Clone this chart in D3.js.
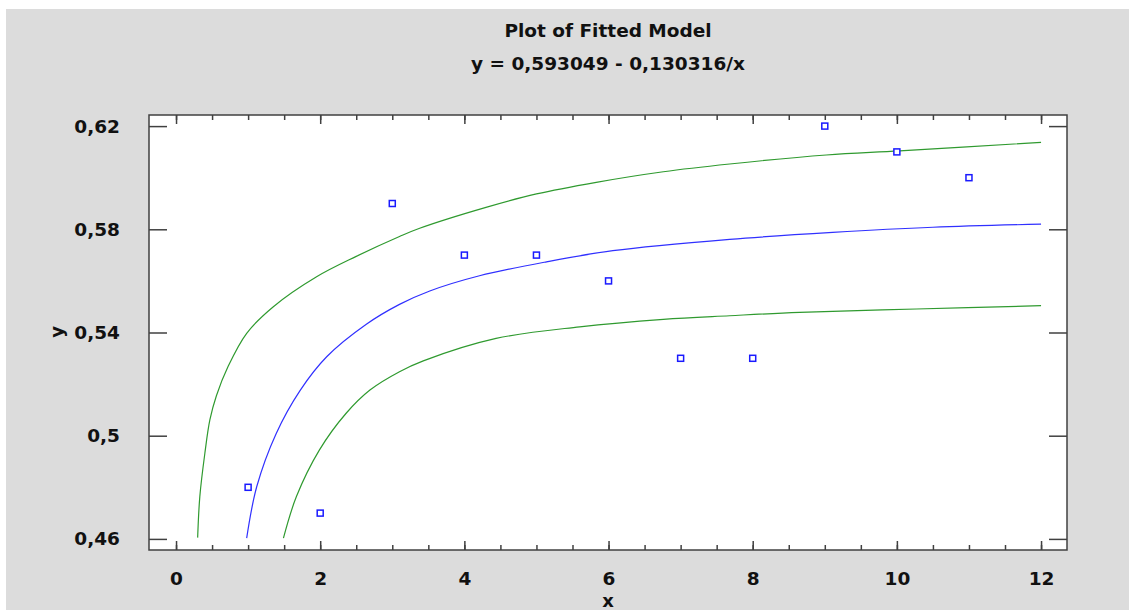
<!DOCTYPE html>
<html>
<head>
<meta charset="utf-8">
<script src="https://cdn.jsdelivr.net/npm/d3@7"></script>
<style>
  body { margin: 0; background: #fff; }
  text { font-family: "DejaVu Sans", sans-serif; font-weight: bold; fill: #111; }
</style>
</head>
<body>
<script>
// chart size & plot box
var width = 1129,
    height = 610;
var margin = {left: 149, top: 115, right: 1067, bottom: 550};

// observed points
var pointX = [1, 2, 3, 4, 5, 6, 7, 8, 9, 10, 11];
var pointY = [0.48, 0.47, 0.59, 0.57, 0.57, 0.56, 0.53, 0.53, 0.62, 0.61, 0.60];

// fitted line
var fitX = [0.98, 1.12, 1.39, 1.72, 2.09, 2.64, 3.10, 3.52, 4.21, 5.14, 6.06, 7.68, 9.11, 10.5, 12.0];
var fitY = [0.4603, 0.4803, 0.5009, 0.5175, 0.5306, 0.5432, 0.5509, 0.5561, 0.5620, 0.5674, 0.5717, 0.5761, 0.5788, 0.5808, 0.5820];

// upper limit
var upperX = [0.30, 0.33, 0.40, 0.47, 0.56, 0.72, 0.98, 1.35, 1.95, 2.50, 3.10, 3.38, 4.30, 5.00, 5.83, 6.76, 7.68, 9.02, 10.04, 12.0];
var upperY = [0.4605, 0.4764, 0.4932, 0.5062, 0.5155, 0.5267, 0.5397, 0.5500, 0.5616, 0.5695, 0.5772, 0.5804, 0.5885, 0.5937, 0.5982, 0.6023, 0.6053, 0.6088, 0.6104, 0.6137];

// lower limit
var lowerX = [1.49, 1.67, 1.99, 2.36, 2.69, 3.10, 3.43, 4.44, 5.60, 6.76, 7.68, 8.65, 10.27, 12.0];
var lowerY = [0.4603, 0.4764, 0.4945, 0.5087, 0.5177, 0.5248, 0.5290, 0.5377, 0.5422, 0.5451, 0.5465, 0.5478, 0.5491, 0.5504];

// ticks
var xMajor = [0, 2, 4, 6, 8, 10, 12];
var xMinor = d3.range(0, 12.01, 0.5);
var yTicks = [0.46, 0.5, 0.54, 0.58, 0.62];

var titleLines = ["Plot of Fitted Model", "y = 0,593049 - 0,130316/x"];

var locale = d3.formatLocale({decimal: ",", thousands: ".", grouping: [3], currency: ["", ""]});
var fmt = locale.format("~f");

var x = d3.scaleLinear().domain([-0.375, 12.36]).range([margin.left, margin.right]);
var y = d3.scaleLinear().domain([0.4557, 0.6243]).range([margin.bottom, margin.top]);

var svg = d3.select("body").append("svg")
    .attr("width", width)
    .attr("height", height);

// gray panel
svg.append("rect")
    .attr("x", 6).attr("y", 9)
    .attr("width", width - 6).attr("height", height - 9)
    .attr("fill", "#dcdcdc");

// plot area
svg.append("rect")
    .attr("x", margin.left).attr("y", margin.top)
    .attr("width", margin.right - margin.left)
    .attr("height", margin.bottom - margin.top)
    .attr("fill", "#fff");

// titles
svg.selectAll(".title")
    .data(titleLines)
    .enter().append("text")
    .attr("class", "title")
    .attr("x", (margin.left + margin.right) / 2)
    .attr("y", function(d, i) { return 37 + i * 33; })
    .attr("text-anchor", "middle")
    .style("font-size", "18.5px")
    .text(function(d) { return d; });

function styleAxis(g) {
    g.select(".domain").remove();
    g.selectAll("line").attr("stroke", "#404040").attr("stroke-width", 1.5);
}

// minor x ticks (bottom & top)
svg.append("g")
    .attr("transform", "translate(0," + margin.bottom + ")")
    .call(d3.axisBottom(x).tickValues(xMinor).tickSize(-5).tickFormat(""))
    .call(styleAxis);
svg.append("g")
    .attr("transform", "translate(0," + margin.top + ")")
    .call(d3.axisTop(x).tickValues(xMinor).tickSize(-5).tickFormat(""))
    .call(styleAxis);

// major x ticks
svg.append("g")
    .attr("transform", "translate(0," + margin.bottom + ")")
    .call(d3.axisBottom(x).tickValues(xMajor).tickSize(-9).tickPadding(22).tickFormat(fmt))
    .call(styleAxis);
svg.append("g")
    .attr("transform", "translate(0," + margin.top + ")")
    .call(d3.axisTop(x).tickValues(xMajor).tickSize(-9).tickFormat(""))
    .call(styleAxis);

// y ticks
svg.append("g")
    .attr("transform", "translate(" + margin.left + ",0)")
    .call(d3.axisLeft(y).tickValues(yTicks).tickSize(-18).tickPadding(29).tickFormat(fmt))
    .call(styleAxis);
svg.append("g")
    .attr("transform", "translate(" + margin.right + ",0)")
    .call(d3.axisRight(y).tickValues(yTicks).tickSize(-18).tickFormat(""))
    .call(styleAxis);

svg.selectAll(".tick text")
    .style("font-size", "18.5px")
    .attr("fill", "#111");

// frame
svg.append("rect")
    .attr("x", margin.left).attr("y", margin.top)
    .attr("width", margin.right - margin.left)
    .attr("height", margin.bottom - margin.top)
    .attr("fill", "none")
    .attr("stroke", "#404040")
    .attr("stroke-width", 1.5);

// axis titles
svg.append("text")
    .attr("x", (margin.left + margin.right) / 2)
    .attr("y", 607)
    .attr("text-anchor", "middle")
    .style("font-size", "18px")
    .text("x");
svg.append("text")
    .attr("transform", "translate(63,332) rotate(-90)")
    .attr("text-anchor", "middle")
    .style("font-size", "18px")
    .text("y");

// curves
var line = d3.line()
    .x(function(d) { return x(d[0]); })
    .y(function(d) { return y(d[1]); })
    .curve(d3.curveCatmullRom);

var curves = [
    {xs: upperX, ys: upperY, color: "#2f9a2f"},
    {xs: lowerX, ys: lowerY, color: "#2f9a2f"},
    {xs: fitX, ys: fitY, color: "#3030ff"}
];

svg.append("g")
    .selectAll("path")
    .data(curves)
    .enter().append("path")
    .attr("d", function(c) { return line(d3.zip(c.xs, c.ys)); })
    .attr("fill", "none")
    .attr("stroke", function(c) { return c.color; })
    .attr("stroke-width", 1.2);

// points
svg.append("g")
    .selectAll("rect")
    .data(d3.zip(pointX, pointY))
    .enter().append("rect")
    .attr("x", function(d) { return x(d[0]) - 3; })
    .attr("y", function(d) { return y(d[1]) - 3; })
    .attr("width", 6)
    .attr("height", 6)
    .attr("fill", "#fff")
    .attr("stroke", "#1a1aff")
    .attr("stroke-width", 1.5);
</script>
</body>
</html>
